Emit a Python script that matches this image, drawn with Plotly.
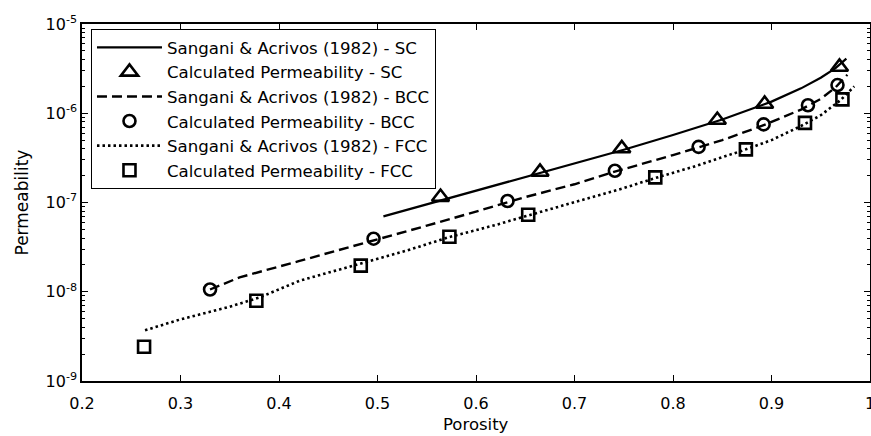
import plotly.graph_objects as go

# Sangani & Acrivos (1982) curves
sc_line_x = [0.506, 0.53, 0.56, 0.60, 0.65, 0.70, 0.75, 0.80, 0.85, 0.90, 0.93, 0.95, 0.965, 0.976]
sc_line_y = [7.0e-8, 8.3e-8, 1.02e-7, 1.35e-7, 1.95e-7, 2.75e-7, 3.9e-7, 5.7e-7, 8.5e-7, 1.35e-6, 1.9e-6, 2.5e-6, 3.2e-6, 4.1e-6]

bcc_line_x = [0.33, 0.36, 0.42, 0.46, 0.50, 0.55, 0.60, 0.65, 0.70, 0.74, 0.80, 0.85, 0.89, 0.93, 0.95, 0.965, 0.977]
bcc_line_y = [1.06e-8, 1.45e-8, 2.2e-8, 2.9e-8, 3.9e-8, 5.5e-8, 7.9e-8, 1.15e-7, 1.6e-7, 2.2e-7, 3.4e-7, 5.0e-7, 7.2e-7, 1.1e-6, 1.45e-6, 1.95e-6, 2.7e-6]

fcc_line_x = [0.264, 0.30, 0.35, 0.38, 0.421, 0.48, 0.53, 0.573, 0.62, 0.65, 0.70, 0.75, 0.78, 0.82, 0.87, 0.90, 0.93, 0.95, 0.97, 0.984]
fcc_line_y = [3.7e-9, 4.9e-9, 6.8e-9, 8.6e-9, 1.33e-8, 2.05e-8, 2.9e-8, 4.1e-8, 5.6e-8, 7.0e-8, 1.0e-7, 1.45e-7, 1.85e-7, 2.5e-7, 3.8e-7, 5.0e-7, 7.2e-7, 9.5e-7, 1.4e-6, 2.0e-6]

# Calculated permeability
sc_calc_x = [0.564, 0.665, 0.748, 0.845, 0.893, 0.969]
sc_calc_y = [1.15e-7, 2.2e-7, 4.03e-7, 8.4e-7, 1.27e-6, 3.3e-6]

bcc_calc_x = [0.330, 0.496, 0.632, 0.741, 0.826, 0.892, 0.937, 0.967]
bcc_calc_y = [1.06e-8, 3.93e-8, 1.04e-7, 2.27e-7, 4.2e-7, 7.5e-7, 1.23e-6, 2.07e-6]

fcc_calc_x = [0.263, 0.377, 0.483, 0.573, 0.653, 0.782, 0.874, 0.934, 0.972]
fcc_calc_y = [2.42e-9, 7.94e-9, 1.96e-8, 4.14e-8, 7.3e-8, 1.91e-7, 3.94e-7, 7.8e-7, 1.43e-6]

x_ticks = [0.2, 0.3, 0.4, 0.5, 0.6, 0.7, 0.8, 0.9, 1.0]
x_tick_labels = ["0.2", "0.3", "0.4", "0.5", "0.6", "0.7", "0.8", "0.9", "1"]
y_ticks = [1e-9, 1e-8, 1e-7, 1e-6, 1e-5]
y_tick_labels = ["10<sup>-9</sup>", "10<sup>-8</sup>", "10<sup>-7</sup>", "10<sup>-6</sup>", "10<sup>-5</sup>"]
y_minor = [k * 10.0 ** e for e in range(-9, -5) for k in range(2, 10)]

x_title = "Porosity"
y_title = "Permeability"

FONT = "DejaVu Sans, Liberation Sans, Arial, sans-serif"

fig = go.Figure()
fig.add_trace(go.Scatter(x=sc_line_x, y=sc_line_y, mode="lines", name="Sangani &amp; Acrivos (1982) - SC",
                         line=dict(color="black", width=2.2, dash="solid")))
fig.add_trace(go.Scatter(x=sc_calc_x, y=sc_calc_y, mode="markers", name="Calculated Permeability - SC",
                         marker=dict(symbol="triangle-up-open", size=15, color="black", line=dict(width=2.6, color="black"))))
fig.add_trace(go.Scatter(x=bcc_line_x, y=bcc_line_y, mode="lines", name="Sangani &amp; Acrivos (1982) - BCC",
                         line=dict(color="black", width=2.4, dash="10px,5px")))
fig.add_trace(go.Scatter(x=bcc_calc_x, y=bcc_calc_y, mode="markers", name="Calculated Permeability - BCC",
                         marker=dict(symbol="circle-open", size=12, color="black", line=dict(width=2.6, color="black"))))
fig.add_trace(go.Scatter(x=fcc_line_x, y=fcc_line_y, mode="lines", name="Sangani &amp; Acrivos (1982) - FCC",
                         line=dict(color="black", width=2.6, dash="2.5px,3px")))
fig.add_trace(go.Scatter(x=fcc_calc_x, y=fcc_calc_y, mode="markers", name="Calculated Permeability - FCC",
                         marker=dict(symbol="square-open", size=12, color="black", line=dict(width=2.6, color="black"))))

fig.update_layout(
    width=871, height=436,
    margin=dict(l=82, r=1, t=24, b=55, autoexpand=False),
    paper_bgcolor="white", plot_bgcolor="white",
    font=dict(family=FONT, size=17, color="black"),
    showlegend=True,
    legend=dict(x=0.0114, y=0.986, xanchor="left", yanchor="top",
                bgcolor="white", bordercolor="black", borderwidth=1,
                font=dict(family=FONT, size=16.6, color="black"),
                tracegroupgap=0, itemwidth=65),
    xaxis=dict(range=[0.2, 1.0], tickvals=x_ticks, ticktext=x_tick_labels,
               ticks="inside", ticklen=6, tickcolor="black", tickwidth=1,
               showline=True, linecolor="black", linewidth=1.5, mirror="ticks",
               showgrid=False, zeroline=False, automargin=False,
               ticklabelstandoff=7, ticklabeloverflow="allow",
               tickfont=dict(family=FONT, size=16)),
    yaxis=dict(type="log", range=[-9, -5], tickvals=y_ticks, ticktext=y_tick_labels,
               ticks="inside", ticklen=6, tickcolor="black", tickwidth=1,
               showline=True, linecolor="black", linewidth=1.5, mirror="ticks",
               showgrid=False, zeroline=False, automargin=False,
               minor=dict(tickvals=y_minor, ticks="inside", ticklen=3, tickcolor="black", showgrid=False),
               tickfont=dict(family=FONT, size=16)),
    annotations=[
        dict(text=x_title, xref="paper", yref="paper", x=0.5, y=-0.1232,
             xanchor="center", yanchor="middle", showarrow=False,
             font=dict(family=FONT, size=16.5, color="black")),
        dict(text=y_title, xref="paper", yref="paper", x=-0.0774, y=0.5, textangle=-90,
             xanchor="center", yanchor="middle", showarrow=False,
             font=dict(family=FONT, size=17, color="black")),
    ],
)

fig.write_html("out.html", config={"displayModeBar": False},
               post_script="document.body.style.margin='0';document.body.style.padding='0';")
